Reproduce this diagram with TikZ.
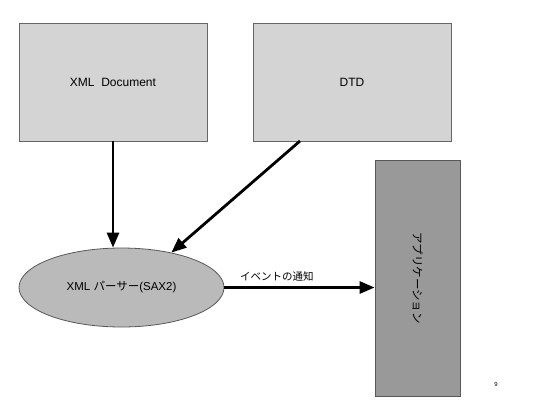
\documentclass[tikz,border=0pt]{standalone}
\usepackage{fontspec}
\setmainfont{Liberation Sans}
\newfontfamily\cjk{Noto Sans CJK JP}
\usetikzlibrary{shapes.geometric,arrows.meta}
\begin{document}
\begin{tikzpicture}[x=1pt,y=-1pt,
  lightbox/.style={draw=gray!80!black,line width=0.8pt,fill=black!17,inner sep=0pt},
  appbox/.style={draw=gray!70!black,line width=0.8pt,fill=black!40,inner sep=0pt},
  parser/.style={ellipse,draw=gray!70!black,line width=0.8pt,fill=black!27,inner sep=0pt},
  flow/.style={line width=2.8pt,-{Triangle[length=15pt,width=12pt]}}]
\useasboundingbox[fill=white] (0,0) rectangle (549,413);
\node[lightbox,minimum width=188pt,minimum height=118pt] (xml) at (113,82) {\fontsize{12}{14}\selectfont XML\ \ Document};
\node[lightbox,minimum width=198pt,minimum height=118pt] (dtd) at (352,82) {\fontsize{12}{14}\selectfont DTD};
\node[appbox,minimum width=85pt,minimum height=236pt] (app) at (417.5,278) {};
\node[rotate=-90] at (app.center) {\cjk\fontsize{11.5}{13}\selectfont アプリケーション};
\node[parser,minimum width=205pt,minimum height=79pt] (sax) at (121.5,287.5) {\fontsize{11.5}{13}\selectfont XML {\cjk パーサー}(SAX2)};
\coordinate (dtdout) at (300,141);
\draw[flow] (xml.south -| 113,0) -- (sax.north -| 113,0);
\draw[flow] (dtdout) -- (sax.35);
\draw[flow] (sax.east) -- node[above,pos=0.35,yshift=1pt,font=\cjk\fontsize{10.5}{12}\selectfont] {イベントの通知} (app.west |- sax.east);
\node[font=\fontsize{6}{7}\selectfont] (pg) at (496,384) {9};
\end{tikzpicture}
\end{document}
